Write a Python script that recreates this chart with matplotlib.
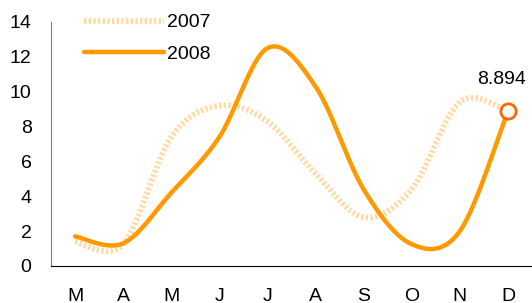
import matplotlib
matplotlib.use("Agg")
import matplotlib.pyplot as plt
import numpy as np

meses = ["M", "A", "M", "J", "J", "A", "S", "O", "N", "D"]
v2007 = [1.4, 1.25, 7.4, 9.2, 8.3, 5.3, 2.8, 4.4, 9.4, 8.894]
v2008 = [1.7, 1.3, 4.2, 7.4, 12.5, 10.3, 4.4, 1.25, 2.0, 8.894]


def suave(xs, ys, n=40):
    # curva suavizada tipo Excel (bezier con tangentes catmull-rom)
    p = np.column_stack([xs, ys]).astype(float)
    p = np.vstack([p[0], p, p[-1]])
    out = []
    for i in range(1, len(p) - 2):
        p0, p1, p2, p3 = p[i - 1], p[i], p[i + 1], p[i + 2]
        c1 = p1 + (p2 - p0) / 6
        c2 = p2 - (p3 - p1) / 6
        t = np.linspace(0, 1, n)[:, None]
        seg = ((1 - t) ** 3) * p1 + 3 * ((1 - t) ** 2) * t * c1 + 3 * (1 - t) * t ** 2 * c2 + t ** 3 * p2
        out.append(seg if i == 1 else seg[1:])
    out = np.vstack(out)
    return out[:, 0], out[:, 1]


plt.rcParams["font.family"] = ["Liberation Sans", "DejaVu Sans"]

fig = plt.figure(figsize=(5.32, 3.03), dpi=100)
ax = fig.add_axes([51 / 532, 37 / 303, 481 / 532, 244 / 303])

x = np.arange(len(meses))
sx, sy = suave(x, v2007)
ax.plot(sx, sy, color="#FFD9A3", lw=4.2, dashes=(0.4, 0.4), solid_capstyle="butt", label="2007")
sx, sy = suave(x, v2008)
ax.plot(sx, sy, color="#FF9900", lw=3.2, solid_capstyle="round", label="2008")

ax.plot(x[-1], v2008[-1], "o", ms=11, mfc="white", mec="#FF6600", mew=2, zorder=5)
ax.annotate("8.894", (x[-1], v2008[-1]), xytext=(-6, 31), textcoords="offset pixels",
            ha="center", va="center", fontsize=14)

ax.set_xlim(-0.5, 9.5)
ax.set_ylim(0, 14)
ax.set_xticks(x)
ax.set_xticklabels(meses)
ax.set_yticks(range(0, 15, 2))
ax.tick_params(length=0, labelsize=14)
ax.tick_params(axis="x", pad=16)
ax.tick_params(axis="y", pad=14)
ax.spines["top"].set_visible(False)
ax.spines["right"].set_visible(False)
ax.spines["left"].set_color("#808080")

ax.legend(loc="upper left", bbox_to_anchor=(76 / 532, 1 - 6 / 303), bbox_transform=fig.transFigure,
          frameon=False, fontsize=14, handlelength=4.1, handletextpad=0.2, labelspacing=0.7,
          borderaxespad=0)

plt.savefig("out.png", dpi=100)
